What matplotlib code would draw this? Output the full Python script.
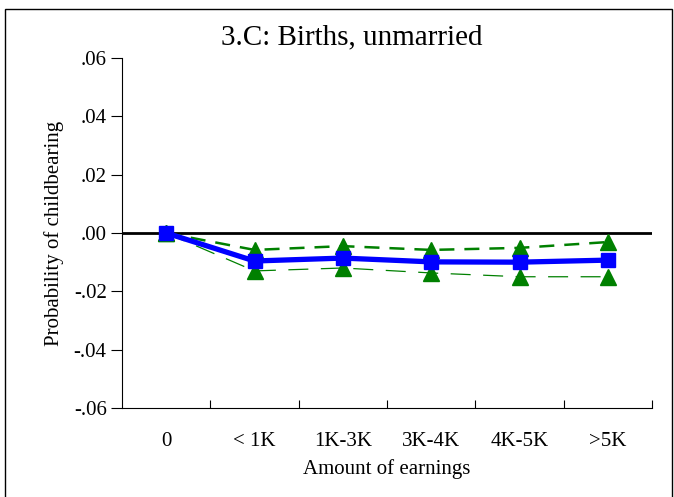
import matplotlib
matplotlib.use("Agg")
import matplotlib.pyplot as plt
from matplotlib.patches import Rectangle

categories = ["0", "< 1K", "1K-3K", "3K-4K", "4K-5K", ">5K"]
estimate = [0.0, -0.0096, -0.0086, -0.0099, -0.0100, -0.0093]
upper_ci = [0.0, -0.0058, -0.0045, -0.0058, -0.0051, -0.0031]
lower_ci = [0.0, -0.0130, -0.0120, -0.0137, -0.0150, -0.0150]
yticks = [-0.06, -0.04, -0.02, 0.0, 0.02, 0.04, 0.06]
ytick_labels = ["-.06", "-.04", "-.02", ".00", ".02", ".04", ".06"]

plt.rcParams['font.family'] = ['Liberation Serif', 'DejaVu Serif']

fig = plt.figure(figsize=(6.74, 4.97), dpi=100)
ax = fig.add_axes([122/674, 1-408/497, (652-122)/674, (408-58)/497])

x = list(range(len(categories)))
ax.axhline(0, color='black', lw=2, zorder=1)
ax.plot(x, upper_ci, color='#008000', lw=1.8, dashes=(6, 4), marker='^', ms=11, zorder=2)
ax.plot(x, lower_ci, color='#008000', lw=0.9, dashes=(16, 10), marker='^', ms=11, zorder=2)
ax.plot(x, estimate, color='#0000FF', lw=3.8, marker='s', ms=10.5, zorder=3)

ax.set_xlim(-0.5, len(categories) - 0.5)
ax.set_ylim(-0.06, 0.06)
ax.set_yticks(yticks)
ax.set_yticklabels(ytick_labels, fontsize=15)
ax.set_xticks([i + 0.5 for i in range(len(categories))])
ax.set_xticklabels([])
ax.set_xticks(x, minor=True)
ax.set_xticklabels(categories, minor=True, fontsize=15)
ax.tick_params(axis='x', which='minor', length=0, pad=17)
ax.tick_params(axis='x', which='major', length=6, direction='in')
ax.tick_params(axis='y', length=8, direction='out', pad=3)
for s in ['top', 'right']:
    ax.spines[s].set_visible(False)
ax.set_xlabel("Amount of earnings", fontsize=15, labelpad=6)
ax.set_ylabel("Probability of childbearing", fontsize=15, labelpad=7)
fig.text(352/674, 1 - 37/497, "3.C: Births, unmarried", fontsize=21,
         ha='center', va='center')

fig.patches.append(Rectangle((5/674, -0.01), (672-5)/674, 1 - 9/497 + 0.01,
                             transform=fig.transFigure, fill=False, ec='black', lw=1))
fig.savefig("out.png", dpi=100)
